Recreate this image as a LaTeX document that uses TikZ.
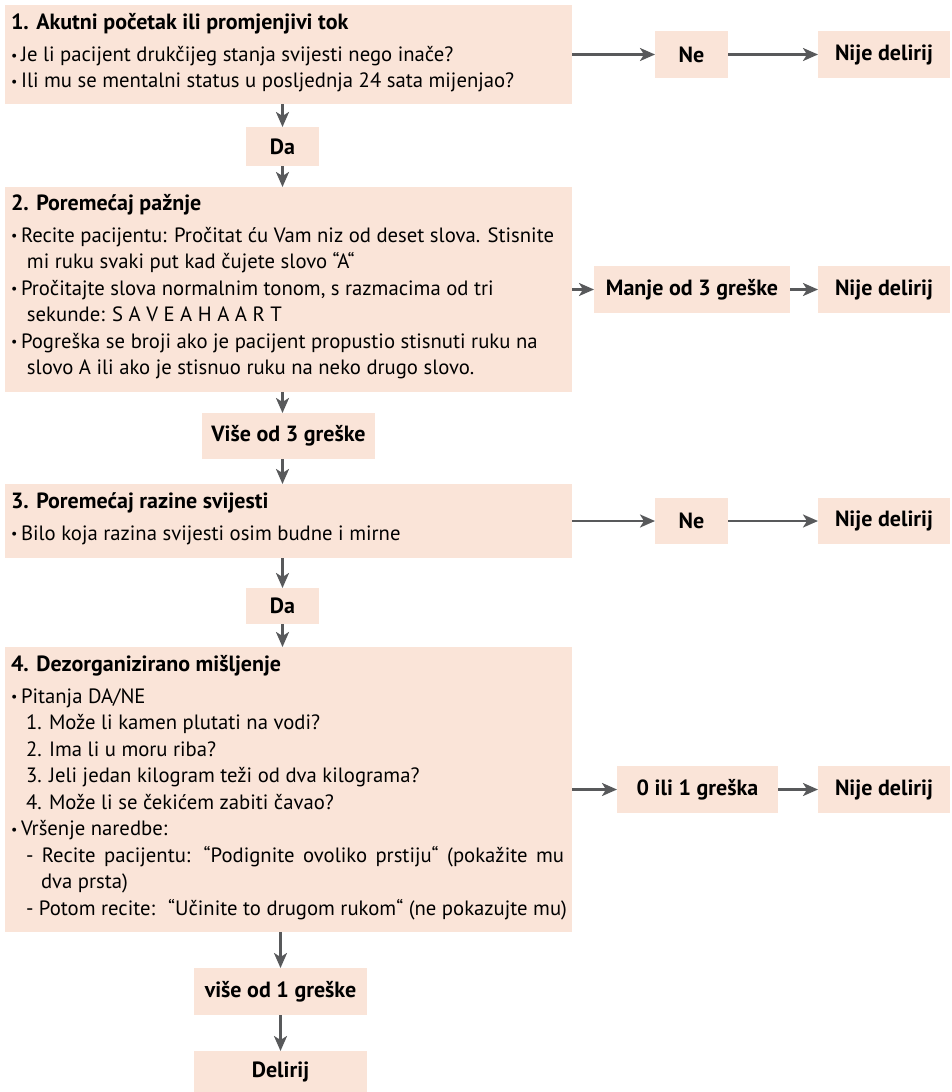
\documentclass[tikz,border=0pt]{standalone}
\usepackage{fontspec}
\setmainfont{PT Sans}
\usetikzlibrary{arrows.meta}
\definecolor{boxfill}{RGB}{250,228,216}
\definecolor{arrgray}{RGB}{88,89,91}
\newcommand{\mybul}{\makebox[10pt][l]{\raisebox{1.5pt}{\fontsize{14}{14}\selectfont•}}}
\newcommand{\ttl}[1]{{\fontsize{22}{26.5}\selectfont\bfseries #1}}
\begin{document}
\begin{tikzpicture}[x=1pt,y=-1pt,
  font=\fontsize{20.7}{26.5}\selectfont,
  box/.style={fill=boxfill, draw=none, inner sep=0pt, outer sep=0pt, font=\fontsize{22}{24}\selectfont\bfseries},
  bigbox/.style={fill=boxfill, draw=none, inner sep=0pt, outer sep=0pt, anchor=north west, minimum width=567pt},
  txt/.style={anchor=base west, inner sep=0pt, outer sep=0pt},
  arr/.style={draw=arrgray, line width=2.5pt, -{Stealth[length=15pt,width=13pt,inset=4pt]}}]
\useasboundingbox (0,0) rectangle (951,1092);

% big boxes
\node[bigbox, minimum height=99pt] (b1) at (5,5) {};
\node[bigbox, minimum height=205pt] (b2) at (5,187) {};
\node[bigbox, minimum height=74pt] (b3) at (5,484) {};
\node[bigbox, minimum height=285pt] (b4) at (5,647) {};

% texts
\node[txt] (t1) at (11,29.5) {\parbox[t]{560pt}{\setlength{\parindent}{0pt}%
\ttl{1. Akutni početak ili promjenjivi tok}\\[5.5pt]
\mybul Je li pacijent drukčijeg stanja svijesti nego inače?\\
\mybul Ili mu se mentalni status u posljednja 24 sata mijenjao?}};

\node[txt] (t2) at (11,210) {\parbox[t]{560pt}{\setlength{\parindent}{0pt}%
\ttl{2. Poremećaj pažnje}\\[5.5pt]
\mybul Recite pacijentu: Pročitat ću Vam niz od deset slova. Stisnite\\
\hspace*{16pt}mi ruku svaki put kad čujete slovo “A“\\
\mybul Pročitajte slova normalnim tonom, s razmacima od tri\\
\hspace*{16pt}sekunde: S A V E A H A A R T\\
\mybul Pogreška se broji ako je pacijent propustio stisnuti ruku na\\
\hspace*{16pt}slovo A ili ako je stisnuo ruku na neko drugo slovo.}};

\node[txt] (t3) at (11,508) {\parbox[t]{560pt}{\setlength{\parindent}{0pt}%
\ttl{3. Poremećaj razine svijesti}\\[5.5pt]
\mybul Bilo koja razina svijesti osim budne i mirne}};

\node[txt] (t4) at (11,671) {\parbox[t]{560pt}{\setlength{\parindent}{0pt}%
\ttl{4. Dezorganizirano mišljenje}\\[5.5pt]
\mybul Pitanja DA/NE\\
\hspace*{15pt}1. Može li kamen plutati na vodi?\\
\hspace*{15pt}2. Ima li u moru riba?\\
\hspace*{15pt}3. Jeli jedan kilogram teži od dva kilograma?\\
\hspace*{15pt}4. Može li se čekićem zabiti čavao?\\
\mybul Vršenje naredbe:\\
\hspace*{15pt}\makebox[538pt][s]{- Recite pacijentu: “Podignite ovoliko prstiju“ (pokažite mu}\\
\hspace*{30pt}dva prsta)\\
\hspace*{15pt}- Potom recite: \ “Učinite to drugom rukom“ (ne pokazujte mu)}};

% small boxes
\node[box, minimum width=73pt, minimum height=39pt] (da1) at (282.5,146.5) {Da};
\node[box, minimum width=173pt, minimum height=46pt] (vise3) at (288.5,436) {Više od 3 greške};
\node[box, minimum width=73pt, minimum height=36pt] (da2) at (282.5,606) {Da};
\node[box, minimum width=173pt, minimum height=47pt] (vise1) at (280.5,991.5) {više od 1 greške};
\node[box, minimum width=173pt, minimum height=41pt] (delirij) at (280.5,1071.5) {Delirij};

\node[box, minimum width=73pt, minimum height=47pt] (ne1) at (691.5,54.5) {Ne};
\node[box, minimum width=132pt, minimum height=47pt] (nd1) at (884,54.5) {Nije delirij};
\node[box, minimum width=196pt, minimum height=47pt] (manje) at (692,289.5) {Manje od 3 greške};
\node[box, minimum width=132pt, minimum height=47pt] (nd2) at (884,289.5) {Nije delirij};
\node[box, minimum width=73pt, minimum height=46pt] (ne3) at (691.5,521) {Ne};
\node[box, minimum width=132pt, minimum height=46pt] (nd3) at (884,521) {Nije delirij};
\node[box, minimum width=161pt, minimum height=47pt] (zero) at (697.5,789.5) {0 ili 1 greška};
\node[box, minimum width=132pt, minimum height=47pt] (nd4) at (884,789.5) {Nije delirij};

% vertical arrows
\draw[arr] (b1.south -| da1) -- (da1.north);
\draw[arr] (da1.south) -- (b2.north -| da1);
\draw[arr] (b2.south -| da1) -- (vise3.north -| da1);
\draw[arr] (vise3.south -| da1) -- (b3.north -| da1);
\draw[arr] (b3.south -| da2) -- (da2.north);
\draw[arr] (da2.south) -- (b4.north -| da2);
\draw[arr] (b4.south -| vise1) -- (vise1.north);
\draw[arr] (vise1.south) -- (delirij.north);

% horizontal arrows
\draw[arr] (b1.east) -- (ne1.west);
\draw[arr] (ne1.east) -- (nd1.west);
\draw[arr] (b2.east) -- (manje.west);
\draw[arr] (manje.east) -- (nd2.west);
\draw[arr] (b3.east) -- (ne3.west);
\draw[arr] (ne3.east) -- (nd3.west);
\draw[arr] (b4.east) -- (zero.west);
\draw[arr] (zero.east) -- (nd4.west);
\end{tikzpicture}
\end{document}
